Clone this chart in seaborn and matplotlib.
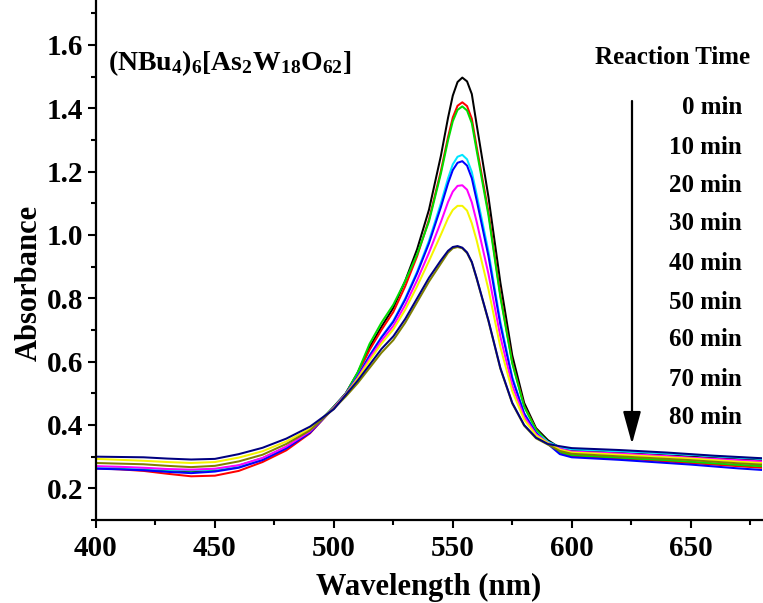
import numpy as np
import pandas as pd
import matplotlib
matplotlib.use("Agg")
import matplotlib.pyplot as plt
import seaborn as sns
from matplotlib.ticker import MultipleLocator

# ---------------- data ----------------
wavelength = [400, 410, 420, 430, 440, 450, 460, 470, 480, 490,
              500,
              505, 510, 515, 520, 525, 530, 535, 540, 545,
              548, 550, 552, 554, 556, 558, 560,
              565, 570, 575, 580, 585, 590,
              595,
              600, 610, 620, 630, 640, 650, 660, 670, 680]

abs_0 = [0.267, 0.265, 0.262, 0.257, 0.254, 0.258, 0.270, 0.292, 0.328, 0.378,
         0.458,
         0.500, 0.565, 0.645, 0.710, 0.770, 0.855, 0.955, 1.080, 1.250,
         1.370, 1.440, 1.483, 1.497, 1.485, 1.445, 1.350,
         1.120, 0.850, 0.620, 0.470, 0.390, 0.352,
         0.328,
         0.320, 0.316, 0.312, 0.308, 0.304, 0.300, 0.296, 0.292, 0.288]
abs_10 = [0.263, 0.260, 0.255, 0.246, 0.238, 0.240, 0.255, 0.283, 0.320, 0.374,
          0.455,
          0.499, 0.561, 0.637, 0.700, 0.757, 0.838, 0.933, 1.049, 1.202,
          1.309, 1.371, 1.408, 1.419, 1.407, 1.367, 1.280,
          1.072, 0.811, 0.598, 0.460, 0.386, 0.345,
          0.313,
          0.302, 0.298, 0.294, 0.290, 0.285, 0.280, 0.275, 0.270, 0.265]
abs_20 = [0.266, 0.264, 0.262, 0.258, 0.256, 0.259, 0.272, 0.295, 0.330, 0.380,
          0.458,
          0.499, 0.566, 0.656, 0.723, 0.780, 0.855, 0.939, 1.043, 1.194,
          1.299, 1.359, 1.395, 1.406, 1.393, 1.353, 1.268,
          1.062, 0.804, 0.595, 0.458, 0.385, 0.346,
          0.315,
          0.305, 0.301, 0.297, 0.293, 0.289, 0.284, 0.279, 0.274, 0.270]
abs_30 = [0.268, 0.266, 0.263, 0.259, 0.257, 0.260, 0.271, 0.294, 0.330, 0.378,
          0.455,
          0.498, 0.554, 0.620, 0.678, 0.729, 0.800, 0.884, 0.982, 1.100,
          1.179, 1.223, 1.247, 1.253, 1.239, 1.199, 1.129,
          0.948, 0.727, 0.552, 0.438, 0.376, 0.347,
          0.330,
          0.323, 0.320, 0.317, 0.314, 0.310, 0.306, 0.301, 0.297, 0.293]
abs_40 = [0.262, 0.260, 0.257, 0.252, 0.248, 0.253, 0.265, 0.289, 0.326, 0.376,
          0.455,
          0.498, 0.553, 0.618, 0.676, 0.726, 0.796, 0.879, 0.974, 1.088,
          1.163, 1.205, 1.228, 1.233, 1.219, 1.179, 1.111,
          0.933, 0.717, 0.546, 0.436, 0.375, 0.340,
          0.308,
          0.298, 0.294, 0.290, 0.285, 0.280, 0.275, 0.269, 0.263, 0.258]
abs_50 = [0.270, 0.268, 0.265, 0.261, 0.259, 0.262, 0.273, 0.296, 0.332, 0.380,
          0.455,
          0.497, 0.549, 0.610, 0.666, 0.713, 0.779, 0.857, 0.944, 1.041,
          1.104, 1.137, 1.155, 1.157, 1.143, 1.103, 1.043,
          0.877, 0.679, 0.525, 0.426, 0.371, 0.344,
          0.325,
          0.316, 0.313, 0.310, 0.306, 0.302, 0.297, 0.293, 0.289, 0.285]
abs_60 = [0.293, 0.290, 0.287, 0.283, 0.280, 0.283, 0.297, 0.317, 0.348, 0.388,
          0.452,
          0.496, 0.546, 0.603, 0.657, 0.702, 0.764, 0.838, 0.918, 1.001,
          1.053, 1.079, 1.092, 1.092, 1.077, 1.037, 0.984,
          0.828, 0.646, 0.507, 0.417, 0.367, 0.343,
          0.322,
          0.313, 0.310, 0.306, 0.302, 0.298, 0.294, 0.289, 0.284, 0.280]
abs_70 = [0.280, 0.278, 0.276, 0.271, 0.267, 0.271, 0.285, 0.306, 0.340, 0.383,
          0.452,
          0.490, 0.532, 0.580, 0.628, 0.668, 0.723, 0.788, 0.853, 0.910,
          0.944, 0.958, 0.962, 0.958, 0.943, 0.913, 0.863,
          0.728, 0.578, 0.468, 0.398, 0.358, 0.338,
          0.318,
          0.309, 0.305, 0.301, 0.297, 0.293, 0.289, 0.284, 0.279, 0.275]
abs_80 = [0.300, 0.299, 0.298, 0.294, 0.291, 0.293, 0.308, 0.328, 0.357, 0.395,
          0.450,
          0.495, 0.540, 0.590, 0.640, 0.680, 0.735, 0.800, 0.865, 0.920,
          0.950, 0.962, 0.965, 0.960, 0.945, 0.915, 0.865,
          0.730, 0.580, 0.470, 0.400, 0.360, 0.340,
          0.333,
          0.327, 0.324, 0.321, 0.317, 0.313, 0.308, 0.303, 0.299, 0.295]

time_labels = ["0 min", "10 min", "20 min", "30 min", "40 min", "50 min", "60 min", "70 min", "80 min"]
series = [abs_0, abs_10, abs_20, abs_30, abs_40, abs_50, abs_60, abs_70, abs_80]
line_colors = ["#000000", "#FF0000", "#00DD00", "#00E5FF", "#0000FF", "#FF00FF", "#F5F500", "#808000", "#000080"]

x_ticks = [400, 450, 500, 550, 600, 650]
y_ticks = [0.2, 0.4, 0.6, 0.8, 1.0, 1.2, 1.4, 1.6]

# ---------------- style ----------------
sns.set_theme(style="ticks")
plt.rcParams["font.family"] = ["Liberation Serif", "DejaVu Serif"]
plt.rcParams["font.weight"] = "bold"
plt.rcParams["axes.labelweight"] = "bold"
plt.rcParams["text.color"] = "black"
plt.rcParams["axes.labelcolor"] = "black"
plt.rcParams["xtick.color"] = "black"
plt.rcParams["ytick.color"] = "black"
plt.rcParams["mathtext.fontset"] = "custom"
plt.rcParams["mathtext.rm"] = "Liberation Serif:bold"
plt.rcParams["mathtext.it"] = "Liberation Serif:italic:bold"
plt.rcParams["mathtext.bf"] = "Liberation Serif:bold"
plt.rcParams["mathtext.default"] = "rm"

W, H = 763, 603
fig = plt.figure(figsize=(W / 100, H / 100), dpi=100)
ax = fig.add_axes([96 / W, (H - 520) / H, (762 - 96) / W, 520 / H])

df = pd.concat(
    [pd.DataFrame({"Wavelength": wavelength, "Absorbance": vals, "Time": lab})
     for lab, vals in zip(time_labels, series)],
    ignore_index=True,
)

sns.lineplot(data=df, x="Wavelength", y="Absorbance", hue="Time", hue_order=time_labels,
             palette=line_colors, legend=False, linewidth=1.45, sort=False,
             estimator=None, ax=ax)

ax.set_xlim(400, 680)
ax.set_ylim(0.1, 1.742)
ax.set_xticks(x_ticks)
ax.set_yticks(y_ticks)
ax.set_yticklabels([f"{v:.1f}" for v in y_ticks])
ax.xaxis.set_minor_locator(MultipleLocator(25))
ax.yaxis.set_minor_locator(MultipleLocator(0.1))

for side in ["top", "right"]:
    ax.spines[side].set_visible(False)
for side in ["left", "bottom"]:
    ax.spines[side].set_linewidth(1.6)
    ax.spines[side].set_color("black")

ax.tick_params(axis="both", which="major", direction="out", length=6, width=1.5,
               labelsize=21, color="black", labelcolor="black")
ax.tick_params(axis="both", which="minor", direction="out", length=3.5, width=1.5, color="black")
ax.tick_params(axis="x", which="major", pad=5)
ax.tick_params(axis="y", which="major", pad=3)
for lbl in ax.get_xticklabels() + ax.get_yticklabels():
    lbl.set_fontweight("bold")

ax.set_xlabel("Wavelength (nm)", fontsize=22, fontweight="bold", color="black")
ax.set_ylabel("Absorbance", fontsize=22, fontweight="bold", color="black")
ax.xaxis.set_label_coords(0.5, -0.102)
ax.yaxis.set_label_coords(-0.078, 0.456)

# compound label
fig.text(108 / W, 1 - 63 / H, r"(NBu$_4$)$_6$[As$_2$W$_{18}$O$_{62}$]", fontsize=20,
         fontweight="bold", ha="left", va="center", color="black")

# reaction time annotations
fig.text(750 / W, 1 - 58 / H, "Reaction Time", fontsize=18, fontweight="bold",
         ha="right", va="center", color="black")
label_y = [108, 147, 186, 224, 263, 302, 340, 379, 418]
for lab, yy in zip(time_labels, label_y):
    fig.text(742 / W, 1 - yy / H, lab, fontsize=18, fontweight="bold", ha="right",
             va="center", color="black")

ax.annotate("", xy=(632, H - 444), xytext=(632, H - 101),
            xycoords="figure pixels", textcoords="figure pixels",
            arrowprops=dict(arrowstyle="-|>,head_length=2.0,head_width=0.55",
                            color="black", lw=1.6, mutation_scale=10,
                            shrinkA=0, shrinkB=0))

fig.savefig("out.png", dpi=100)
